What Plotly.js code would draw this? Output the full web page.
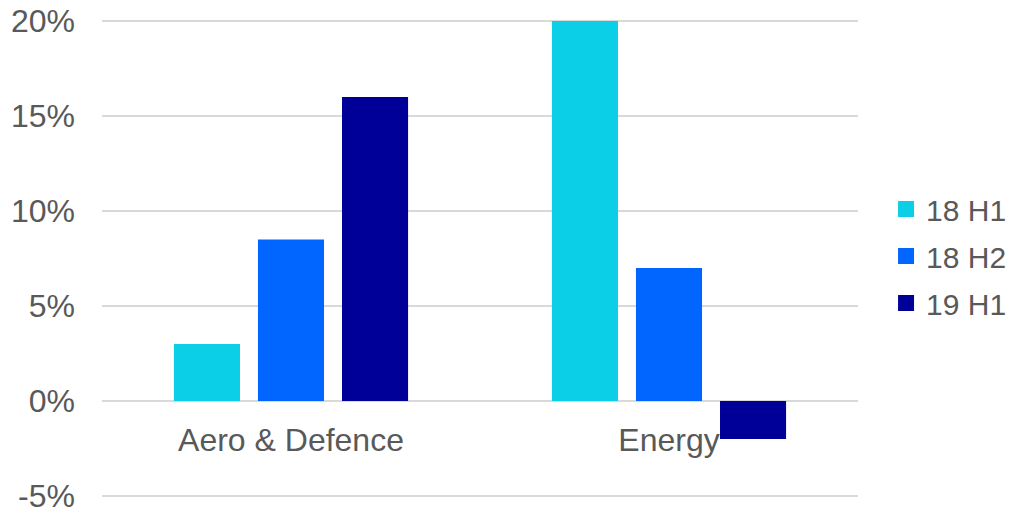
<!DOCTYPE html>
<html>
<head>
<meta charset="utf-8">
<script src="https://cdn.plot.ly/plotly-3.0.1.min.js"></script>
<style>html,body{margin:0;padding:0;background:#fff;}#chart{width:1011px;height:510px;}</style>
</head>
<body>
<div id="chart"></div>
<script>
const categories = ["Aero & Defence", "Energy"];
const seriesNames = ["18 H1", "18 H2", "19 H1"];
const s18H1 = [3, 20];
const s18H2 = [8.5, 7];
const s19H1 = [16, -2];
const yTickVals = [-5, 0, 5, 10, 15, 20];
const yTickText = ["-5%", "0%", "5%", "10%", "15%", "20%"];

const colors = ["#0BCFE6", "#0066FF", "#000099"];
const seriesVals = [s18H1, s18H2, s19H1];
const fam = "Liberation Sans, Arial, sans-serif";
const txt = "#595959";

const traces = seriesVals.map((v, i) => ({
  type: "bar",
  name: seriesNames[i],
  x: categories,
  y: v,
  marker: {color: colors[i]},
  showlegend: false,
  hoverinfo: "none"
}));
// legend entries with larger square swatches
seriesNames.forEach((n, i) => traces.push({
  type: "scatter", mode: "markers",
  name: n,
  x: [categories[0]], y: [null],
  marker: {symbol: "square", size: 17, color: colors[i]},
  legendgroup: "g" + i,
  showlegend: true,
  hoverinfo: "none"
}));

const layout = {
  width: 1011, height: 510,
  margin: {l: 102, r: 153, t: 19, b: 12, pad: 0},
  paper_bgcolor: "#fff", plot_bgcolor: "#fff",
  font: {family: fam, color: txt, size: 32},
  barmode: "group",
  bargap: 0.333,
  bargroupgap: 0.214,
  showlegend: true,
  legend: {
    xref: "container", yref: "container",
    x: 0.8764, y: 0.498, xanchor: "left", yanchor: "middle",
    font: {family: fam, color: txt, size: 30},
    tracegroupgap: 5,
    bgcolor: "rgba(0,0,0,0)"
  },
  xaxis: {
    anchor: "free", position: 5.1 / 25.2,
    showgrid: false, zeroline: false, showline: false,
    ticks: "", ticklabelstandoff: 17,
    tickfont: {family: fam, color: txt, size: 32},
    layer: "below traces"
  },
  yaxis: {
    range: [-5.1, 20.1],
    tickvals: yTickVals, ticktext: yTickText,
    showgrid: true, gridcolor: "#D9D9D9", gridwidth: 1.5,
    zeroline: true, zerolinecolor: "#D9D9D9", zerolinewidth: 1.5,
    showline: false, ticks: "", ticklabelstandoff: 26,
    ticklabeloverflow: "allow",
    tickfont: {family: fam, color: txt, size: 32}
  }
};

Plotly.newPlot("chart", traces, layout, {displayModeBar: false, staticPlot: true});
</script>
</body>
</html>
